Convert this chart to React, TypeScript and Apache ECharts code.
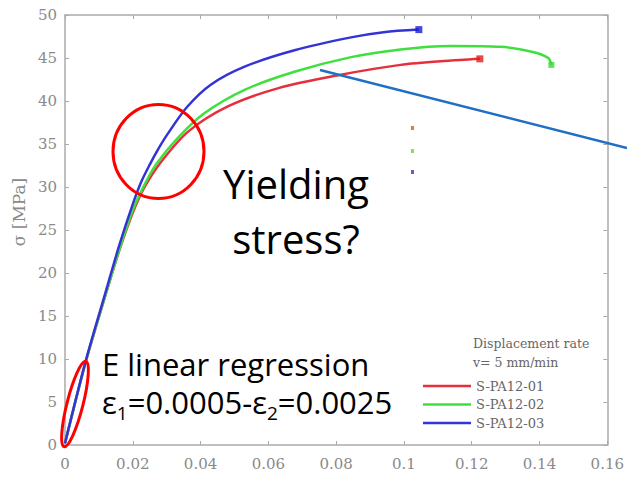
import React, { useEffect, useRef } from "react";
import * as echarts from "echarts";

// ---- Data ----
const seriesNames = ["S-PA12-01", "S-PA12-02", "S-PA12-03"];

const xTickLabels = ["0", "0.02", "0.04", "0.06", "0.08", "0.1", "0.12", "0.14", "0.16"];
const yTickLabels = ["0", "5", "10", "15", "20", "25", "30", "35", "40", "45", "50"];

// S-PA12-01 (red)
const strain01 = [0, 0.006, 0.012, 0.016, 0.02, 0.0235, 0.0285, 0.0365, 0.0482, 0.063, 0.0806, 0.099, 0.1138, 0.1224];
const stress01 = [0.2, 9.5, 17.5, 22.6, 27.0, 30.0, 33.0, 36.5, 39.4, 41.5, 43.0, 44.2, 44.7, 44.9];

// S-PA12-02 (green)
const strain02 = [0, 0.006, 0.012, 0.016, 0.02, 0.0235, 0.027, 0.0335, 0.0412, 0.053, 0.0677, 0.0844, 0.099, 0.1138, 0.1285, 0.138, 0.1426, 0.1435];
const stress02 = [0.2, 9.5, 17.5, 22.7, 27.3, 30.3, 32.7, 35.8, 38.6, 41.3, 43.4, 45.1, 46.0, 46.4, 46.3, 45.7, 45.0, 44.2];

// S-PA12-03 (blue)
const strain03 = [0, 0.006, 0.012, 0.016, 0.02, 0.0225, 0.025, 0.0275, 0.03, 0.036, 0.043, 0.053, 0.0677, 0.0844, 0.094, 0.1044];
const stress03 = [0.2, 9.6, 17.8, 23.2, 28.0, 30.6, 32.6, 34.4, 36.0, 39.3, 41.9, 44.0, 45.9, 47.4, 48.0, 48.3];

const lineColors = ["#e5303c", "#3ee03e", "#3434d6"];
const markerColors = ["#e01c1c", "#3ad83a", "#1a1ad0"];

const pairs = (xs: number[], ys: number[]) => xs.map((x, i) => [x, ys[i]]);

export default function App() {
  const ref = useRef<HTMLDivElement>(null);

  useEffect(() => {
    if (!ref.current) return;
    const chart = echarts.init(ref.current, null, { renderer: "svg" });

    const axisLine = { show: true, onZero: false, lineStyle: { color: "#aaaaaa", width: 1.5 } };
    const axisTick = { show: true, inside: true, length: 4, lineStyle: { color: "#aaaaaa", width: 1 } };
    const labelStyle = { color: "#8a8a8a", fontFamily: "DejaVu Serif", fontSize: 15 };

    const datasets = [pairs(strain01, stress01), pairs(strain02, stress02), pairs(strain03, stress03)];

    const lineSeries = datasets.map((d, i) => ({
      name: seriesNames[i],
      type: "line",
      data: d,
      smooth: 0.3,
      showSymbol: false,
      symbol: "none",
      lineStyle: { color: lineColors[i], width: 2.5 },
      itemStyle: { color: lineColors[i] },
      z: 3,
    }));

    const endSeries = datasets.map((d, i) => ({
      name: seriesNames[i] + "-end",
      type: "scatter",
      data: [d[d.length - 1]],
      symbol: "rect",
      symbolSize: i === 1 ? 6 : 7,
      itemStyle: { color: markerColors[i] },
      z: 4,
    }));

    chart.setOption({
      animation: false,
      backgroundColor: "#ffffff",
      grid: { left: 65, right: 19, top: 15, bottom: 34, containLabel: false },
      xAxis: [
        {
          type: "value",
          position: "bottom",
          min: 0,
          max: 0.16,
          interval: 0.02,
          axisLine,
          axisTick,
          splitLine: { show: false },
          axisLabel: { ...labelStyle, margin: 11, formatter: (_v: number, i: number) => xTickLabels[i] },
        },
        {
          type: "value",
          position: "top",
          min: 0,
          max: 0.16,
          interval: 0.02,
          axisLine,
          axisTick,
          splitLine: { show: false },
          axisLabel: { show: false },
        },
      ],
      yAxis: [
        {
          type: "value",
          position: "left",
          min: 0,
          max: 50,
          interval: 5,
          name: "σ [MPa]",
          nameLocation: "middle",
          nameGap: 38,
          nameRotate: 90,
          nameTextStyle: { color: "#8a8a8a", fontFamily: "DejaVu Serif", fontSize: 17, padding: [0, 0, 0, 36] },
          axisLine,
          axisTick,
          splitLine: { show: false },
          axisLabel: { ...labelStyle, margin: 8, formatter: (_v: number, i: number) => yTickLabels[i] },
        },
        {
          type: "value",
          position: "right",
          min: 0,
          max: 50,
          interval: 5,
          axisLine,
          axisTick,
          splitLine: { show: false },
          axisLabel: { show: false },
        },
      ],
      legend: {
        data: seriesNames,
        orient: "vertical",
        left: 418,
        top: 374,
        icon: "rect",
        itemWidth: 48,
        itemHeight: 2.5,
        itemGap: 4.5,
        textStyle: { color: "#666666", fontFamily: "DejaVu Serif", fontSize: 13, lineHeight: 14 },
      },
      graphic: [
        { type: "text", x: 473, y: 343, style: { text: "Displacement rate", fontFamily: "DejaVu Serif", fontSize: 12.5, fill: "#666666", align: "left", verticalAlign: "middle" } },
        { type: "text", x: 473, y: 362, style: { text: "v= 5 mm/min", fontFamily: "DejaVu Serif", fontSize: 12.5, fill: "#666666", align: "left", verticalAlign: "middle" } },
        { type: "rect", shape: { x: 411, y: 126, width: 3, height: 4 }, style: { fill: "#f07050" } },
        { type: "rect", shape: { x: 411, y: 149, width: 3, height: 4 }, style: { fill: "#80e060" } },
        { type: "rect", shape: { x: 411, y: 170, width: 3, height: 4 }, style: { fill: "#6060d0" } },
        { type: "line", shape: { x1: 320, y1: 70, x2: 627, y2: 148 }, style: { stroke: "#1f6fc4", lineWidth: 2.5 }, z: 10 },
        { type: "ellipse", shape: { cx: 158.5, cy: 151.5, rx: 45.5, ry: 47 }, style: { fill: "transparent", stroke: "#ff0000", lineWidth: 3 }, z: 10 },
        { type: "ellipse", x: 75, y: 404, rotation: -0.25, shape: { cx: 0, cy: 0, rx: 8, ry: 44 }, style: { fill: "transparent", stroke: "#ff0000", lineWidth: 3 }, z: 10 },
        { type: "text", x: 296, y: 183, style: { text: "Yielding", fontFamily: "Open Sans", fontSize: 40, fill: "#000000", align: "center", verticalAlign: "middle" }, z: 10 },
        { type: "text", x: 296, y: 238, style: { text: "stress?", fontFamily: "Open Sans", fontSize: 40, fill: "#000000", align: "center", verticalAlign: "middle" }, z: 10 },
        { type: "text", x: 102, y: 364, style: { text: "E linear regression", fontFamily: "Open Sans", fontSize: 31, fill: "#000000", align: "left", verticalAlign: "middle" }, z: 10 },
        {
          type: "text",
          x: 102,
          y: 402,
          style: {
            text: "{a|ε}{s|1}{a|=0.0005-ε}{s|2}{a|=0.0025}",
            align: "left",
            verticalAlign: "middle",
            rich: {
              a: { fontFamily: "Open Sans", fontSize: 31, fill: "#000000", color: "#000000", lineHeight: 40 },
              s: { fontFamily: "Open Sans", fontSize: 19, fill: "#000000", color: "#000000", lineHeight: 20, verticalAlign: "bottom" },
            },
          },
          z: 10,
        },
      ],
      series: [...lineSeries, ...endSeries],
    });

    return () => chart.dispose();
  }, []);

  return (
    <div
      ref={ref}
      style={{ position: "fixed", left: 0, top: 0, width: 627, height: 479, background: "#ffffff" }}
    />
  );
}
